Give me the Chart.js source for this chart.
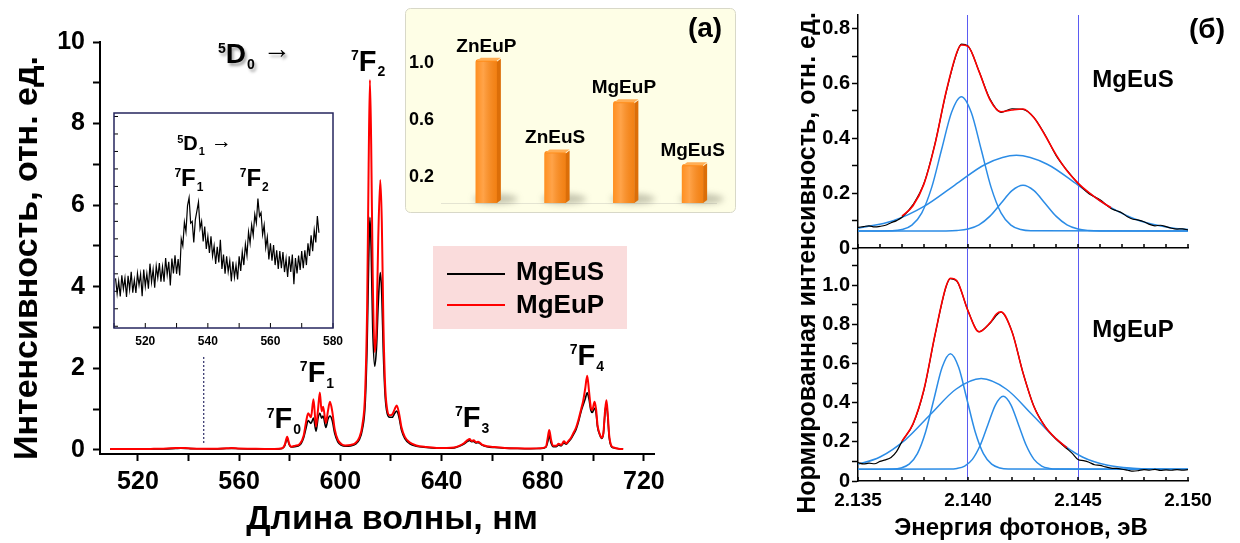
<!DOCTYPE html>
<html lang="ru">
<head>
<meta charset="utf-8">
<title>Люминесценция Eu3+</title>
<script src="https://cdn.jsdelivr.net/npm/chart.js@4.4.1/dist/chart.umd.min.js"></script>
<style>
  html, body { margin: 0; padding: 0; background: #fff; }
  #page { position: relative; width: 1240px; height: 543px; overflow: hidden; background: #fff; }
  #page canvas { position: absolute; }
</style>
</head>
<body>
<div id="page">
  <canvas id="spectrum" width="780" height="543" style="left:0;top:0"></canvas>
  <canvas id="inset" width="250" height="260" style="left:100px;top:100px"></canvas>
  <canvas id="bars" width="345" height="220" style="left:400px;top:0"></canvas>
  <canvas id="fitS" width="460" height="543" style="left:780px;top:0"></canvas>
  <canvas id="fitP" width="460" height="543" style="left:780px;top:0"></canvas>
</div>
<script>
// ---------- (a) emission spectra 5D0 -> 7FJ ----------
const wavelengthNm = [
  509, 515, 520, 525, 530, 535, 537, 540, 545, 550,
  555, 557, 560, 565, 570, 574, 577, 578, 579, 579.8,
  580.5, 582, 584, 585.5, 586.5, 587.3, 588.4, 589.4, 590.4, 591.2,
  591.9, 592.6, 593.2, 594.3, 595.1, 595.9, 596.8, 597.8, 599, 600.5,
  602, 604, 606, 607.5, 608.7, 609.8, 610.6, 611.2, 611.7, 612.2,
  612.8, 613.6, 614.3, 615.0, 615.8, 616.4, 617.0, 617.7, 618.5, 619.5,
  620.5, 621.5, 622.3, 623.2, 624.2, 625.5, 627.5, 630, 634, 638,
  642, 645, 647, 649, 650.3, 651.1, 651.9, 652.7, 653.6, 654.5,
  656, 658, 661, 665, 670, 675, 679, 681.3, 682.0, 682.6,
  683.3, 684.2, 685.3, 686.3, 687.3, 688.4, 689.3, 690.2, 691.2, 692.2,
  693.2, 694.2, 695.2, 696.0, 696.8, 697.6, 698.3, 699.0, 699.6, 700.5,
  701.1, 701.7, 702.5, 703.3, 704.0, 704.7, 705.2, 705.7, 706.3, 707.0,
  708, 710, 711.8
];
const mgEuPSpectrum = [
  0.02, 0.02, 0.022, 0.025, 0.03, 0.045, 0.05, 0.04, 0.03, 0.03,
  0.04, 0.045, 0.035, 0.03, 0.025, 0.025, 0.04, 0.12, 0.32, 0.15,
  0.08, 0.1, 0.15, 0.35, 0.7, 0.9, 0.8, 1.24, 0.57, 1.0,
  1.41, 0.95, 1.06, 0.66, 0.95, 1.18, 0.95, 0.5, 0.25, 0.14,
  0.11, 0.12, 0.17, 0.3, 0.6, 1.4, 3.5, 7.0, 9.07, 7.5,
  4.3, 2.4, 3.0, 5.2, 6.62, 5.6, 3.2, 1.6, 1.0, 0.85,
  0.87, 1.0, 1.09, 0.9, 0.55, 0.32, 0.18, 0.11, 0.07, 0.05,
  0.05, 0.06, 0.1, 0.17, 0.24, 0.27, 0.22, 0.24, 0.19, 0.2,
  0.13, 0.09, 0.07, 0.05, 0.04, 0.035, 0.04, 0.08, 0.3, 0.49,
  0.25, 0.1, 0.1, 0.15, 0.12, 0.21, 0.16, 0.22, 0.3, 0.42,
  0.55, 0.75, 1.0, 1.2, 1.5, 1.82, 1.45, 1.05, 0.98, 1.18,
  1.0, 0.6, 0.4, 0.3, 0.42, 1.0, 1.22, 0.9, 0.35, 0.12,
  0.06, 0.03, 0.02
];
const mgEuSSpectrum = [
  0.02, 0.018, 0.02, 0.022, 0.026, 0.036, 0.04, 0.034, 0.027, 0.026,
  0.034, 0.038, 0.03, 0.025, 0.022, 0.022, 0.035, 0.1, 0.27, 0.13,
  0.07, 0.08, 0.12, 0.3, 0.55, 0.72, 0.65, 0.78, 0.46, 0.78,
  0.9, 0.78, 0.83, 0.55, 0.75, 0.83, 0.72, 0.4, 0.2, 0.11,
  0.09, 0.1, 0.14, 0.25, 0.5, 1.1, 2.6, 4.6, 5.7, 4.9,
  3.0, 2.05, 2.5, 3.6, 4.35, 3.8, 2.4, 1.35, 0.9, 0.8,
  0.8, 0.9, 0.95, 0.8, 0.48, 0.28, 0.15, 0.09, 0.06, 0.045,
  0.045, 0.05, 0.09, 0.15, 0.21, 0.23, 0.2, 0.21, 0.17, 0.18,
  0.12, 0.08, 0.06, 0.045, 0.035, 0.03, 0.035, 0.07, 0.2, 0.35,
  0.17, 0.08, 0.08, 0.12, 0.1, 0.17, 0.14, 0.2, 0.27, 0.38,
  0.5, 0.7, 0.95, 1.1, 1.25, 1.4, 1.25, 0.98, 0.92, 1.02,
  0.9, 0.55, 0.38, 0.28, 0.4, 0.95, 1.12, 0.82, 0.3, 0.1,
  0.05, 0.03, 0.02
];
const guideNm = [546, 546];
const guideLevel = [0.17, 2.33];

// 5D1 region (MgEuS), magnified, arbitrary units
const insetStartNm = 510.5;
const insetStepNm = 0.5;
const insetCounts = [
  2.74, 1.86, 2.58, 1.70, 2.91, 2.13, 2.75, 1.67, 2.88, 2.10,
  3.11, 1.92, 2.66, 1.90, 3.02, 2.35, 2.98, 1.72, 3.25, 2.28,
  3.01, 2.15, 3.58, 2.52, 3.26, 2.20, 3.44, 2.78, 3.61, 2.55,
  3.40, 2.55, 3.90, 2.95, 3.69, 2.33, 3.87, 3.02, 4.06, 3.00,
  3.85, 2.90, 5.00, 4.60, 5.95, 5.40, 6.90, 7.35, 5.90, 6.00,
  4.80, 6.10, 6.60, 7.10, 5.60, 6.00, 4.85, 5.70, 4.42, 5.15,
  4.20, 5.15, 4.02, 4.60, 3.57, 4.55, 3.65, 4.95, 3.28, 4.10,
  3.00, 4.00, 3.12, 3.75, 2.57, 3.70, 2.80, 3.50, 2.68, 4.00,
  3.17, 4.25, 3.50, 4.70, 4.05, 5.40, 4.75, 5.80, 5.20, 6.40,
  5.90, 7.30, 6.30, 6.50, 5.25, 5.80, 4.50, 5.10, 3.82, 4.75,
  3.75, 4.65, 3.50, 4.35, 3.28, 4.30, 3.32, 4.25, 3.10, 3.85,
  2.82, 4.00, 3.10, 4.10, 2.40, 3.90, 3.02, 4.05, 3.22, 4.30,
  3.32, 4.35, 3.50, 4.75, 4.02, 5.20, 4.30, 5.50, 4.80, 6.30,
  5.35
];

// relative integral intensity of the samples
const sampleNames = ['ZnEuP', 'ZnEuS', 'MgEuP', 'MgEuS'];
const relativeIntensity = [1.0, 0.36, 0.71, 0.27];
const barTickValues = [0.2, 0.6, 1.0];

// ---------- (б) 5D0 -> 7F0 band and its decomposition ----------
const energyS = [
  2.135, 2.13525, 2.1355, 2.13575, 2.136, 2.13625, 2.1365, 2.13675, 2.137, 2.1375,
  2.138, 2.1385, 2.139, 2.1395, 2.1397, 2.14, 2.1405, 2.141, 2.1415, 2.142,
  2.1425, 2.143, 2.1435, 2.144, 2.1445, 2.145, 2.1455, 2.146, 2.1465, 2.14675,
  2.147, 2.14725, 2.1475, 2.14775, 2.148, 2.14825, 2.1485, 2.14875, 2.149, 2.14925,
  2.1495, 2.14975, 2.15
];
const measuredS = [
  0.075, 0.078, 0.081, 0.077, 0.079, 0.083, 0.092, 0.100, 0.112, 0.158,
  0.236, 0.381, 0.566, 0.713, 0.744, 0.737, 0.645, 0.543, 0.495, 0.508,
  0.506, 0.476, 0.413, 0.338, 0.283, 0.236, 0.198, 0.176, 0.144, 0.136,
  0.128, 0.114, 0.105, 0.102, 0.096, 0.086, 0.081, 0.083, 0.078, 0.072,
  0.069, 0.070, 0.066
];
const fitEnergyS = [2.137, 2.1375, 2.138, 2.1385, 2.139, 2.1395, 2.1397, 2.14, 2.1405, 2.141,
  2.1415, 2.142, 2.1425, 2.143, 2.1435, 2.144, 2.1445, 2.145, 2.1455, 2.146, 2.1465];
const fitS = [0.1166, 0.1541, 0.2339, 0.3788, 0.5682, 0.7153, 0.7405, 0.7355, 0.6442, 0.5407,
  0.4971, 0.5034, 0.5073, 0.475, 0.4112, 0.3407, 0.2816, 0.2367, 0.2016, 0.1723, 0.1469];
const bandAEnergyS = [2.135, 2.13655, 2.137, 2.13745, 2.1379, 2.13835, 2.1388, 2.13925, 2.1397,
  2.14015, 2.1406, 2.14105, 2.1415, 2.14195, 2.1424, 2.14285, 2.15];
const bandAS = [0.062, 0.0631, 0.0674, 0.0835, 0.1283, 0.2211, 0.3592, 0.4944, 0.552,
  0.4944, 0.3592, 0.2211, 0.1283, 0.0835, 0.0674, 0.0631, 0.062];
const bandBEnergyS = [2.135, 2.1366, 2.138, 2.1394, 2.1408, 2.1422, 2.1436, 2.145, 2.1464, 2.1478, 2.1492, 2.15];
const bandBS = [0.0721, 0.0993, 0.1516, 0.2294, 0.3056, 0.338, 0.3056, 0.2294, 0.1516, 0.0993, 0.0741, 0.0677];
const bandCEnergyS = [2.135, 2.139, 2.1395, 2.14, 2.1405, 2.141, 2.1415, 2.142, 2.1425,
  2.143, 2.1435, 2.144, 2.1445, 2.145, 2.1455, 2.146, 2.15];
const bandCS = [0.062, 0.0624, 0.0639, 0.0693, 0.0846, 0.1162, 0.1633, 0.2094, 0.229,
  0.2094, 0.1633, 0.1162, 0.0846, 0.0693, 0.0639, 0.0624, 0.062];

const energyP = [
  2.135, 2.13525, 2.1355, 2.13575, 2.136, 2.13625, 2.1365, 2.13675, 2.137, 2.1375,
  2.138, 2.1385, 2.139, 2.1392, 2.1395, 2.14, 2.1405, 2.141, 2.1415, 2.142,
  2.1425, 2.143, 2.1435, 2.144, 2.1445, 2.14475, 2.145, 2.14525, 2.1455, 2.14575,
  2.146, 2.14625, 2.1465, 2.14675, 2.147, 2.14725, 2.1475, 2.14775, 2.148, 2.14825,
  2.1485, 2.14875, 2.149, 2.14925, 2.1495, 2.14975, 2.15
];
const measuredP = [
  0.094, 0.087, 0.091, 0.088, 0.1, 0.108, 0.12, 0.15, 0.202, 0.29,
  0.466, 0.745, 0.991, 1.034, 1.02, 0.87, 0.762, 0.806, 0.862, 0.763,
  0.553, 0.38, 0.279, 0.214, 0.165, 0.14, 0.11, 0.104, 0.096, 0.083,
  0.08, 0.072, 0.066, 0.064, 0.06, 0.055, 0.05, 0.053, 0.058, 0.056,
  0.059, 0.054, 0.057, 0.055, 0.058, 0.056, 0.058
];
const fitEnergyP = [2.137, 2.1375, 2.138, 2.1385, 2.139, 2.1392, 2.1395, 2.14, 2.1405, 2.141,
  2.1413, 2.1415, 2.142, 2.1425, 2.143, 2.1435, 2.144, 2.1445];
const fitP = [0.204, 0.2919, 0.4684, 0.7468, 0.9933, 1.0358, 1.0217, 0.8689, 0.7621, 0.8075,
  0.8542, 0.8636, 0.7622, 0.5522, 0.3792, 0.2785, 0.2163, 0.1699];
const bandAEnergyP = [2.135, 2.136575, 2.13695, 2.137325, 2.1377, 2.138075, 2.13845, 2.138825, 2.1392,
  2.139575, 2.13995, 2.140325, 2.1407, 2.141075, 2.14145, 2.141825, 2.15];
const bandAP = [0.06, 0.0613, 0.0665, 0.0859, 0.1398, 0.2516, 0.4178, 0.5807, 0.65,
  0.5807, 0.4178, 0.2516, 0.1398, 0.0859, 0.0665, 0.0613, 0.06];
const bandBEnergyP = [2.13485, 2.136, 2.13715, 2.1383, 2.13945, 2.1406, 2.14175, 2.1429, 2.14405,
  2.1452, 2.14635, 2.1475, 2.14865, 2.1498, 2.15];
const bandBP = [0.0803, 0.1226, 0.2103, 0.3408, 0.4686, 0.523, 0.4686, 0.3408, 0.2103,
  0.1226, 0.0803, 0.0651, 0.061, 0.06, 0.06];
const bandCEnergyP = [2.135, 2.13915, 2.1395, 2.13985, 2.1402, 2.14055, 2.1409, 2.14125, 2.1416,
  2.14195, 2.1423, 2.14265, 2.143, 2.14335, 2.1437, 2.14405, 2.15];
const bandCP = [0.06, 0.0608, 0.0641, 0.0764, 0.1105, 0.1811, 0.2862, 0.3892, 0.433,
  0.3892, 0.2862, 0.1811, 0.1105, 0.0764, 0.0641, 0.0608, 0.06];
const referenceEnergies = [2.140, 2.145];

// ---------- helpers ----------
const FONT = '"Liberation Sans", Arial, Helvetica, sans-serif';
Chart.defaults.font.family = FONT;
Chart.defaults.color = '#000';
Chart.defaults.animation = false;
Chart.defaults.responsive = false;
Chart.defaults.devicePixelRatio = 1;
Chart.defaults.plugins.legend.display = false;
Chart.defaults.plugins.tooltip.enabled = false;
Chart.defaults.elements.point.radius = 0;

const bold = px => `bold ${px}px ${FONT}`;
const pts = (xs, ys) => xs.map((x, i) => ({ x, y: ys[i] }));
const curve = (xs, ys, color, width, order) => ({
  data: pts(xs, ys), borderColor: color, borderWidth: width, order,
  cubicInterpolationMode: 'monotone', fill: false
});

// spectroscopic term: raised multiplicity, letter, lowered J
function term(ctx, x, y, sup, letter, sub, size, small) {
  ctx.textAlign = 'left';
  ctx.textBaseline = 'alphabetic';
  ctx.font = bold(small);
  ctx.fillText(sup, x, y - 0.716 * (size - small));
  x += ctx.measureText(sup).width;
  ctx.font = bold(size);
  ctx.fillText(letter, x, y);
  x += ctx.measureText(letter).width + 1;
  ctx.font = bold(small);
  ctx.fillText(sub, x, y + 0.42 * small);
  return x + ctx.measureText(sub).width;
}

function roundRectPath(ctx, x, y, w, h, r) {
  ctx.beginPath();
  ctx.moveTo(x + r, y);
  ctx.lineTo(x + w - r, y); ctx.arcTo(x + w, y, x + w, y + r, r);
  ctx.lineTo(x + w, y + h - r); ctx.arcTo(x + w, y + h, x + w - r, y + h, r);
  ctx.lineTo(x + r, y + h); ctx.arcTo(x, y + h, x, y + h - r, r);
  ctx.lineTo(x, y + r); ctx.arcTo(x, y, x + r, y, r);
  ctx.closePath();
}

function inwardTicks(ctx, scale, yAxis, len) {
  ctx.save();
  ctx.strokeStyle = '#000';
  ctx.lineWidth = 1.5;
  ctx.beginPath();
  scale.ticks.forEach(t => {
    const p = scale.getPixelForValue(t.value);
    ctx.moveTo(p, yAxis);
    ctx.lineTo(p, yAxis - len);
  });
  ctx.stroke();
  ctx.restore();
}

// ---------- (a) main spectrum ----------
const mainTerms = [
  { nm: 604.2, level: 9.30, sub: '2' },
  { nm: 584.0, level: 1.67, sub: '1' },
  { nm: 570.9, level: 0.53, sub: '0' },
  { nm: 645.3, level: 0.57, sub: '3' },
  { nm: 690.7, level: 2.08, sub: '4' }
];

const mainDecor = {
  id: 'mainDecor',
  afterDraw(chart) {
    const { ctx, scales: { x, y } } = chart;
    ctx.save();
    ctx.fillStyle = '#000';
    ctx.font = bold(34);
    ctx.textAlign = 'center';
    ctx.textBaseline = 'alphabetic';
    ctx.fillText('Длина волны, нм', 392, 529);
    ctx.save();
    ctx.translate(37, 258);
    ctx.rotate(-Math.PI / 2);
    ctx.fillText('Интенсивность, отн. ед.', 0, 0);
    ctx.restore();

    mainTerms.forEach(t => term(ctx, x.getPixelForValue(t.nm), y.getPixelForValue(t.level), '7', 'F', t.sub, 29, 14));

    // 5D0 -> with a soft drop shadow
    ctx.save();
    ctx.shadowColor = 'rgba(0,0,0,0.35)';
    ctx.shadowBlur = 3;
    ctx.shadowOffsetX = 2;
    ctx.shadowOffsetY = 3;
    const bx = x.getPixelForValue(551.6), by = y.getPixelForValue(9.49);
    const end = term(ctx, bx, by, '5', 'D', '0', 28, 14);
    ctx.font = bold(28);
    ctx.textAlign = 'left';
    ctx.fillText('→', end + 8, by - 5);
    ctx.restore();

    // legend
    ctx.fillStyle = '#fadcdc';
    ctx.fillRect(433, 246, 194, 83);
    ctx.lineWidth = 2;
    ctx.strokeStyle = '#000';
    ctx.beginPath(); ctx.moveTo(447, 274); ctx.lineTo(505, 274); ctx.stroke();
    ctx.strokeStyle = '#ff0000';
    ctx.beginPath(); ctx.moveTo(447, 305); ctx.lineTo(505, 305); ctx.stroke();
    ctx.fillStyle = '#000';
    ctx.font = bold(26);
    ctx.textAlign = 'left';
    ctx.fillText('MgEuS', 516, 280);
    ctx.fillText('MgEuP', 516, 313);
    ctx.restore();
  }
};

new Chart(document.getElementById('spectrum'), {
  type: 'line',
  data: {
    datasets: [
      curve(wavelengthNm, mgEuPSpectrum, '#ff0000', 2, 0),
      curve(wavelengthNm, mgEuSSpectrum, '#000000', 1.6, 1),
      { data: pts(guideNm, guideLevel), borderColor: '#2b2b66', borderWidth: 1.2, borderDash: [2, 2], order: 2 }
    ]
  },
  options: {
    layout: { padding: { left: 0, top: 42, right: 126, bottom: 0 }, autoPadding: false },
    scales: {
      x: {
        type: 'linear', min: 505, max: 724,
        afterFit(s) { s.height = 89; },
        border: { display: true, color: '#000', width: 2 },
        grid: { drawOnChartArea: false, drawTicks: true, tickLength: 7, tickWidth: 2, tickColor: '#000' },
        ticks: { stepSize: 20, includeBounds: false, autoSkip: false, maxRotation: 0, padding: 6,
          font: { size: 25, weight: 'bold' }, callback: v => (v % 40 === 0 ? String(v) : '') }
      },
      y: {
        min: -0.1, max: 10,
        afterFit(s) { s.width = 100; },
        border: { display: true, color: '#000', width: 2 },
        grid: { drawOnChartArea: false, drawTicks: true, tickLength: 7, tickWidth: 2, tickColor: '#000' },
        ticks: { stepSize: 1, includeBounds: false, autoSkip: false, padding: 8,
          font: { size: 25, weight: 'bold' }, callback: v => (v % 2 === 0 ? String(v) : '') }
      }
    }
  },
  plugins: [mainDecor]
});

// ---------- 5D1 inset ----------
const insetNm = insetCounts.map((_, i) => insetStartNm + i * insetStepNm);
const insetDecor = {
  id: 'insetDecor',
  beforeDraw(chart) {
    const { ctx, chartArea: a } = chart;
    ctx.save();
    ctx.fillStyle = '#fff';
    ctx.fillRect(a.left, a.top, a.right - a.left, a.bottom - a.top);
    ctx.restore();
  },
  afterDraw(chart) {
    const { ctx, chartArea: a, scales: { x, y } } = chart;
    ctx.save();
    ctx.strokeStyle = '#000';
    ctx.lineWidth = 1;
    ctx.beginPath();
    x.ticks.forEach(t => { const p = x.getPixelForValue(t.value); ctx.moveTo(p, a.bottom); ctx.lineTo(p, a.bottom - 5); });
    y.ticks.forEach(t => { const p = y.getPixelForValue(t.value); ctx.moveTo(a.left, p); ctx.lineTo(a.left + 4, p); });
    ctx.stroke();
    ctx.strokeStyle = '#26265e';
    ctx.lineWidth = 1.5;
    ctx.strokeRect(a.left, a.top, a.right - a.left, a.bottom - a.top);
    ctx.fillStyle = '#000';
    const dx = x.getPixelForValue(530.2), dy = y.getPixelForValue(10.09);
    const end = term(ctx, dx, dy, '5', 'D', '1', 20, 11);
    ctx.font = bold(21);
    ctx.textAlign = 'left';
    ctx.fillText('→', end + 6, dy - 2);
    term(ctx, x.getPixelForValue(529.3), y.getPixelForValue(8.03), '7', 'F', '1', 24, 12);
    term(ctx, x.getPixelForValue(550.2), y.getPixelForValue(8.03), '7', 'F', '2', 24, 12);
    ctx.restore();
  }
};

new Chart(document.getElementById('inset'), {
  type: 'line',
  data: { datasets: [{ data: pts(insetNm, insetCounts), borderColor: '#000', borderWidth: 1.2 }] },
  options: {
    layout: { padding: { left: 14, top: 13, right: 17, bottom: 0 }, autoPadding: false },
    scales: {
      x: {
        type: 'linear', min: 510, max: 580,
        afterFit(s) { s.height = 32; },
        border: { display: false },
        grid: { display: false, drawTicks: false },
        ticks: { stepSize: 10, includeBounds: false, autoSkip: false, maxRotation: 0, padding: 6,
          font: { size: 12, weight: 'bold' }, callback: v => (v % 20 === 0 ? String(v) : '') }
      },
      y: {
        min: -0.1, max: 12.2,
        afterFit(s) { s.width = 0; },
        border: { display: false },
        grid: { display: false, drawTicks: false },
        ticks: { display: false, stepSize: 1, includeBounds: false }
      }
    }
  },
  plugins: [insetDecor]
});

// ---------- relative intensity bars ----------
const barDecor = {
  id: 'barDecor',
  beforeDraw(chart) {
    const ctx = chart.ctx;
    ctx.save();
    roundRectPath(ctx, 5.5, 8.5, 330, 204, 5);
    ctx.fillStyle = '#fefee6';
    ctx.fill();
    ctx.strokeStyle = '#d8d8c8';
    ctx.lineWidth = 1;
    ctx.stroke();
    ctx.strokeStyle = '#e4e4d2';
    ctx.beginPath();
    ctx.moveTo(41, chart.chartArea.bottom + 0.5); ctx.lineTo(317, chart.chartArea.bottom + 0.5);
    ctx.stroke();
    ctx.restore();
  },
  beforeDatasetsDraw(chart) {
    const ctx = chart.ctx;
    ctx.save();
    ctx.filter = 'blur(3px)';
    ctx.fillStyle = 'rgba(90,90,70,0.35)';
    chart.getDatasetMeta(0).data.forEach(b => {
      ctx.beginPath();
      ctx.ellipse(b.x + 9, b.base - 4, 22, 5, 0, 0, Math.PI * 2);
      ctx.fill();
    });
    ctx.restore();
  },
  afterDatasetsDraw(chart) {
    const ctx = chart.ctx;
    ctx.save();
    chart.getDatasetMeta(0).data.forEach((b, i) => {
      const L = b.x - b.width / 2, R = b.x + b.width / 2, d = 4;
      // right side face
      ctx.fillStyle = '#dc6e08';
      ctx.beginPath();
      ctx.moveTo(R, b.y + 2); ctx.lineTo(R + d, b.y - 1); ctx.lineTo(R + d, b.base - 3); ctx.lineTo(R, b.base);
      ctx.closePath(); ctx.fill();
      // top face
      ctx.fillStyle = '#ffae55';
      ctx.beginPath();
      ctx.moveTo(L + 1, b.y + 1); ctx.lineTo(L + d + 1, b.y - 2); ctx.lineTo(R + d, b.y - 2); ctx.lineTo(R, b.y + 1);
      ctx.closePath(); ctx.fill();
      // soft highlight on the front
      const g = ctx.createLinearGradient(L, 0, R, 0);
      g.addColorStop(0, 'rgba(255,255,255,0.05)');
      g.addColorStop(0.35, 'rgba(255,255,255,0.22)');
      g.addColorStop(1, 'rgba(150,60,0,0.12)');
      ctx.fillStyle = g;
      ctx.fillRect(L, b.y + 2, R - L, b.base - b.y - 2);
      // sample name
      ctx.fillStyle = '#000';
      ctx.font = bold(19);
      ctx.textAlign = 'center';
      ctx.textBaseline = 'alphabetic';
      ctx.fillText(sampleNames[i], b.x, b.y - 8);
    });
    ctx.restore();
  },
  afterDraw(chart) {
    const ctx = chart.ctx;
    ctx.save();
    ctx.fillStyle = '#000';
    ctx.font = bold(28);
    ctx.textAlign = 'center';
    ctx.textBaseline = 'alphabetic';
    ctx.fillText('(a)', 305, 37);
    ctx.restore();
  }
};

new Chart(document.getElementById('bars'), {
  type: 'bar',
  data: {
    labels: sampleNames,
    datasets: [{ data: relativeIntensity, backgroundColor: '#ff8a16', barThickness: 21, borderRadius: 3 }]
  },
  options: {
    layout: { padding: { left: 0, top: 31, right: 18, bottom: 17 }, autoPadding: false },
    scales: {
      x: { display: false },
      y: {
        min: 0, max: 1.2,
        afterFit(s) { s.width = 52; },
        afterBuildTicks(s) { s.ticks = barTickValues.map(v => ({ value: v })); },
        border: { display: false },
        // tick marks stay hidden; their length only spaces the labels from the bars
        grid: { display: false, drawTicks: true, tickLength: 12 },
        ticks: { padding: 6, labelOffset: 3, font: { size: 18, weight: 'bold' }, callback: v => v.toFixed(1) }
      }
    }
  },
  plugins: [barDecor]
});

// ---------- (б) band decomposition ----------
const isReference = v => referenceEnergies.some(r => Math.abs(v - r) < 1e-6);
const tenths = v => { const r = Math.round(v * 10); return r % 2 ? '' : (r === 0 ? '0' : (r / 10).toFixed(1)); };

function fitScales(yMax, xHeight, showXLabels) {
  return {
    x: {
      type: 'linear', min: 2.135, max: 2.15,
      afterFit(s) { s.height = xHeight; },
      border: { display: true, color: '#000', width: 1.5 },
      grid: { drawOnChartArea: true, drawTicks: false, lineWidth: 1,
        color: c => (c.tick && isReference(c.tick.value) ? '#5b5bf2' : 'rgba(0,0,0,0)') },
      ticks: { display: showXLabels, stepSize: 0.001, includeBounds: false, autoSkip: false, maxRotation: 0, padding: 8,
        font: { size: 19, weight: 'bold' },
        callback: v => { const k = Math.round(v * 1000); return k % 5 === 0 ? (k / 1000).toFixed(3) : ''; } }
    },
    y: {
      min: 0, max: yMax,
      afterFit(s) { s.width = 78; },
      border: { display: true, color: '#000', width: 1.5 },
      grid: { drawOnChartArea: false, drawTicks: true, tickLength: 6, tickWidth: 1.5, tickColor: '#000' },
      ticks: { stepSize: 0.1, includeBounds: false, autoSkip: false, padding: 2,
        font: { size: 20, weight: 'bold' }, callback: tenths }
    }
  };
}

const BLUE = '#2b8ce6';

new Chart(document.getElementById('fitS'), {
  type: 'line',
  data: {
    datasets: [
      curve(fitEnergyS, fitS, '#ff0000', 1.6, 0),
      curve(energyS, measuredS, '#000000', 1.2, 1),
      curve(bandAEnergyS, bandAS, BLUE, 1.5, 2),
      curve(bandBEnergyS, bandBS, BLUE, 1.5, 2),
      curve(bandCEnergyS, bandCS, BLUE, 1.5, 2)
    ]
  },
  options: {
    layout: { padding: { left: 0, top: 15, right: 52, bottom: 0 }, autoPadding: false },
    scales: fitScales(0.85, 295, false)
  },
  plugins: [{
    id: 'fitSDecor',
    afterDraw(chart) {
      const { ctx, chartArea: a, scales: { x } } = chart;
      inwardTicks(ctx, x, a.bottom, 4);
      ctx.save();
      ctx.fillStyle = '#000';
      ctx.textAlign = 'center';
      ctx.textBaseline = 'alphabetic';
      ctx.font = bold(24);
      ctx.fillText('MgEuS', 353, 87);
      ctx.font = bold(28);
      ctx.fillText('(б)', 427, 38);
      ctx.restore();
    }
  }]
});

new Chart(document.getElementById('fitP'), {
  type: 'line',
  data: {
    datasets: [
      curve(fitEnergyP, fitP, '#ff0000', 1.6, 0),
      curve(energyP, measuredP, '#000000', 1.2, 1),
      curve(bandAEnergyP, bandAP, BLUE, 1.5, 2),
      curve(bandBEnergyP, bandBP, BLUE, 1.5, 2),
      curve(bandCEnergyP, bandCP, BLUE, 1.5, 2)
    ]
  },
  options: {
    layout: { padding: { left: 0, top: 248, right: 52, bottom: 0 }, autoPadding: false },
    scales: fitScales(1.19, 62, true)
  },
  plugins: [{
    id: 'fitPDecor',
    afterDraw(chart) {
      const { ctx, chartArea: a, scales: { x } } = chart;
      inwardTicks(ctx, x, a.bottom, 4);
      ctx.save();
      ctx.fillStyle = '#000';
      ctx.textAlign = 'center';
      ctx.textBaseline = 'alphabetic';
      ctx.font = bold(24);
      ctx.fillText('MgEuP', 353, 337);
      ctx.fillText('Энергия фотонов, эВ', 241, 535);
      ctx.font = bold(25);
      ctx.translate(35, 263);
      ctx.rotate(-Math.PI / 2);
      ctx.fillText('Нормированная интенсивность, отн. ед.', 0, 0);
      ctx.restore();
    }
  }]
});
</script>
</body>
</html>
